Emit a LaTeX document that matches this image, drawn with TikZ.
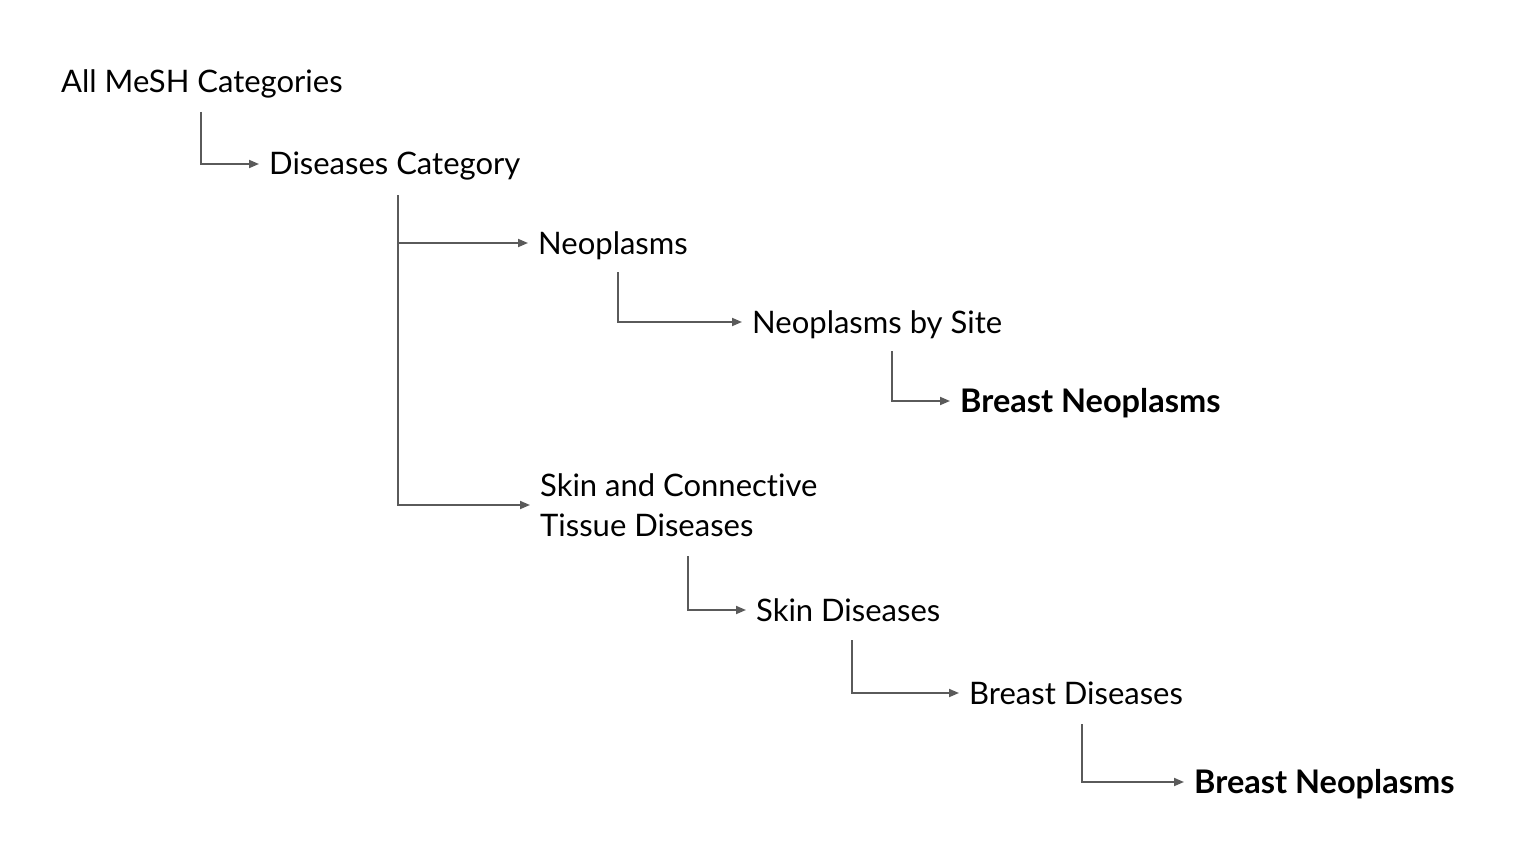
\documentclass[tikz,border=0pt]{standalone}
\usepackage{fontspec}
\setmainfont{Lato}[Ligatures=NoCommon]
\usetikzlibrary{arrows.meta}
\definecolor{conncol}{HTML}{5A5A5A}
\begin{document}
\begin{tikzpicture}[x=1pt,y=-1pt,
  lbl/.style={anchor=west,inner xsep=10pt,inner ysep=0pt,text height=28pt,text depth=6pt,font=\fontsize{31}{40}\selectfont},
  lbltwo/.style={anchor=west,inner xsep=10pt,inner ysep=0pt,align=left,font=\fontsize{31}{40}\selectfont},
  boldlbl/.style={lbl,font=\fontsize{32.5}{40}\selectfont\bfseries},
  conn/.style={draw=conncol,line width=1.8pt,-{Triangle[length=10pt,width=8pt]}}]
\useasboundingbox (0,0) rectangle (1536,864);
\node[lbl] (all) at (51,82) {All MeSH Categories};
\node[lbl] (dis) at (259,164) {Diseases Category};
\node[lbl] (neo) at (528,243) {Neoplasms};
\node[lbl] (site) at (742,322) {Neoplasms by Site};
\node[boldlbl] (bn1) at (950,401) {Breast Neoplasms};
\node[lbltwo] (skin) at (530,505) {Skin and Connective\\Tissue Diseases};
\node[lbl] (skd) at (746,610) {Skin Diseases};
\node[lbl] (brd) at (959,693) {Breast Diseases};
\node[boldlbl] (bn2) at (1184,782) {Breast Neoplasms};
\coordinate (c1) at (201,112);
\coordinate (c2) at (398,195);
\coordinate (c3) at (618,272);
\coordinate (c4) at (892,351);
\coordinate (c5) at (688,556);
\coordinate (c6) at (852,640);
\coordinate (c7) at (1082,724);
\draw[conn] (c1) |- (dis.west);
\draw[conn] (c2) |- (skin.west);
\draw[conn] (c2 |- neo.west) -- (neo.west);
\draw[conn] (c3) |- (site.west);
\draw[conn] (c4) |- (bn1.west);
\draw[conn] (c5) |- (skd.west);
\draw[conn] (c6) |- (brd.west);
\draw[conn] (c7) |- (bn2.west);
\end{tikzpicture}
\end{document}
